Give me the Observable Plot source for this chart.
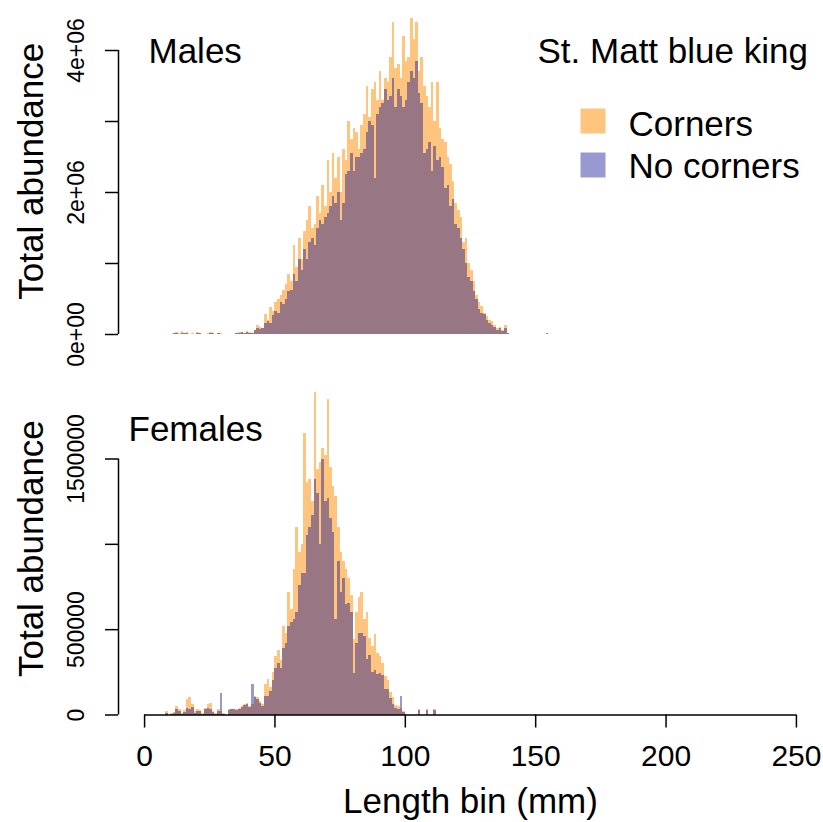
<!DOCTYPE html>
<html>
<head>
<meta charset="utf-8">
<script src="https://cdn.jsdelivr.net/npm/d3@7"></script>
<script src="https://cdn.jsdelivr.net/npm/@observablehq/plot@0.6"></script>
<style>
  html, body { margin: 0; padding: 0; background: #fff; }
  #chart { width: 823px; height: 822px; }
  #chart svg { display: block; }
</style>
</head>
<body>
<div id="chart"></div>
<script>
// Length-frequency of St. Matthew blue king crab, 1 mm length bins.
// Abundances below are in thousands of crab; bin i covers [start + i, start + i + 1) mm.
const maleBinStart = 11;
const maleCorners = [
  20, 30, 10, 40, 20, 30, 0, 20, 0, 30,
  20, 0, 0, 10, 30, 20, 0, 20, 10, 0,
  0, 0, 0, 0, 20, 30, 30, 20, 40, 30,
  20, 60, 120, 100, 80, 280, 200, 380, 330, 450,
  500, 550, 620, 700, 850, 750, 1250, 950, 1350, 1050,
  1450, 1600, 1800, 1500, 1550, 1950, 1700, 2100, 1800, 2450,
  2000, 2550, 2200, 2500, 2000, 2600, 2450, 3000, 2750, 2900,
  2850, 2600, 2950, 3100, 3500, 3050, 3450, 3550, 3300, 3700,
  3300, 3600, 3550, 3900, 4400, 3750, 3800, 3600, 4200, 3850,
  3900, 4450, 4150, 4400, 3700, 3900, 3500, 3350, 3200, 3550,
  3000, 3550, 2900, 2750, 2700, 2500, 2400, 2150, 1850, 1750,
  1650, 1300, 1350, 1000, 900, 750, 550, 450, 400, 300,
  250, 200, 180, 120, 80, 100, 60, 120, 20, 0,
  0, 0, 0, 0, 0, 0, 0, 0, 0, 0,
  0, 0, 0, 20
];
const maleNoCorners = [
  10, 20, 0, 20, 20, 10, 0, 0, 0, 20,
  10, 0, 0, 0, 20, 10, 0, 10, 0, 0,
  0, 0, 0, 0, 10, 20, 30, 20, 30, 20,
  20, 50, 80, 70, 80, 150, 180, 150, 270, 330,
  300, 450, 420, 500, 600, 620, 850, 750, 1050, 900,
  1200, 1050, 1300, 1350, 1250, 1500, 1600, 1550, 1650, 1700,
  1800, 1950, 1850, 2000, 1600, 1850, 2250, 2300, 2550, 2300,
  2500, 2500, 2550, 2600, 2850, 3000, 2950, 2200, 3100, 3200,
  3250, 3450, 3300, 3350, 3600, 3200, 3450, 3350, 3200, 3300,
  3550, 3700, 3600, 3850, 3400, 3250, 2550, 2600, 2700, 2300,
  2650, 2450, 2500, 2350, 2050, 2100, 1800, 1900, 1550, 1500,
  1350, 1200, 1000, 800, 750, 600, 500, 350, 300, 280,
  200, 150, 120, 100, 60, 80, 40, 90, 10, 0,
  0, 0, 0, 0, 0, 0, 0, 0, 0, 0,
  0, 0, 0, 10
];

const femaleBinStart = 8;
const femaleCorners = [
  20, 0, 10,
  15, 50, 30, 10, 25, 90, 100, 60, 20, 30,
  25, 10, 40, 60, 70, 20, 10, 30, 20, 10,
  0, 30, 30, 35, 30, 40, 50, 60, 70, 50,
  60, 110, 100, 80, 60, 180, 210, 160, 250, 345,
  380, 320, 520, 480, 715, 620, 850, 1100, 950, 1000,
  1650, 1360, 1380, 1250, 1890, 1440, 1480, 1560, 1520, 1850,
  1450, 1340, 1280, 1100, 950, 900, 850, 800, 700, 445,
  600, 690, 715, 560, 600, 450, 400, 470, 360, 345,
  300, 228, 200, 129, 100, 53, 50, 40, 20, 0,
  0, 0, 0, 0, 35, 0, 0, 35, 0, 0, 35
];
const femaleNoCorners = [
  10, 0, 5,
  10, 30, 20, 5, 15, 40, 35, 45, 10, 20,
  20, 5, 30, 40, 35, 15, 5, 20, 125, 5,
  0, 25, 30, 30, 25, 35, 45, 55, 60, 45,
  180, 100, 90, 70, 50, 110, 110, 140, 200, 270,
  300, 270, 390, 420, 520, 540, 560, 600, 760, 830,
  830, 1050, 1100, 1170, 1380, 1300, 1000, 1500, 1250, 1270,
  1150, 1070, 560, 900, 715, 800, 650, 656, 600, 246,
  420, 480, 480, 460, 328, 350, 250, 260, 240, 246,
  230, 152, 150, 94, 60, 40, 30, 110, 15, 0,
  0, 0, 0, 0, 25, 0, 0, 25, 0, 0, 25
];

// Axis ticks and their printed labels (overlapping labels are left blank)
const xTicks = [0, 50, 100, 150, 200, 250];
const maleYTicks = [0, 1e6, 2e6, 3e6, 4e6];
const maleYTickLabels = ["0e+00", "", "2e+06", "", "4e+06"];
const femaleYTicks = [0, 5e5, 1e6, 1.5e6];
const femaleYTickLabels = ["0", "500000", "", "1500000"];

const seriesNames = ["Corners", "No corners"];
const seriesFill = ["darkorange", "darkblue"];
const seriesOpacity = [0.5, 0.4];

const xDomain = [-10, 260];
const sansFont = '"Liberation Sans", Arial, Helvetica, sans-serif';

function binRows(start, corners, noCorners) {
  return corners.map((c, i) => ({
    lo: start + i,
    hi: start + i + 1,
    corners: c * 1e3,
    noCorners: noCorners[i] * 1e3
  }));
}

function labelFor(ticks, labels) {
  const m = new Map(ticks.map((t, i) => [t, labels[i]]));
  return (d) => m.get(d) ?? "";
}

function histMarks(rows) {
  return [
    Plot.rectY(rows, {x1: "lo", x2: "hi", y: "corners", fill: seriesFill[0], fillOpacity: seriesOpacity[0], inset: 0, shapeRendering: "crispEdges"}),
    Plot.rectY(rows, {x1: "lo", x2: "hi", y: "noCorners", fill: seriesFill[1], fillOpacity: seriesOpacity[1], inset: 0, shapeRendering: "crispEdges"})
  ];
}

function yAxisMarks(ticks, labels) {
  return [
    Plot.axisY({ticks, tickFormat: labelFor(ticks, labels), tickRotate: -90, tickSize: 13, tickPadding: 22,
                fontSize: 23, fontFamily: sansFont, label: null, strokeWidth: 1.5}),
    Plot.ruleX([xDomain[0]], {y1: ticks[0], y2: ticks[ticks.length - 1], strokeWidth: 1.5}),
    Plot.text(["Total abundance"], {frameAnchor: "left", rotate: -90, textAnchor: "middle", lineAnchor: "bottom",
                                    dx: -76, fontSize: 35, fontFamily: sansFont})
  ];
}

const style = {background: "white", fontFamily: sansFont, fontSize: "35px", color: "black", overflow: "visible"};

const males = Plot.plot({
  width: 823, height: 380,
  marginLeft: 118, marginRight: 1, marginTop: 7.4, marginBottom: 46,
  style,
  x: {domain: xDomain, axis: null},
  y: {domain: [0, 4.6e6], axis: null},
  marks: [
    ...histMarks(binRows(maleBinStart, maleCorners, maleNoCorners)),
    ...yAxisMarks(maleYTicks, maleYTickLabels),
    Plot.text(["Males"], {frameAnchor: "top-left", textAnchor: "start", lineAnchor: "bottom", dx: 30, dy: 54.6, fontSize: 35}),
    // legend
    Plot.text(["St. Matt blue king"], {frameAnchor: "top-left", textAnchor: "start", lineAnchor: "bottom", dx: 419, dy: 54.6, fontSize: 35}),
    ...seriesNames.map((name, i) => Plot.dot([name], {
      frameAnchor: "top-left", dx: 474.5, dy: 113.1 + 44 * i, symbol: "square", r: 14.1,
      fill: seriesFill[i], fillOpacity: seriesOpacity[i], stroke: null
    })),
    ...seriesNames.map((name, i) => Plot.text([name], {
      frameAnchor: "top-left", textAnchor: "start", lineAnchor: "bottom", dx: 510, dy: 127.6 + 42 * i, fontSize: 35
    }))
  ]
});

const females = Plot.plot({
  width: 823, height: 442,
  marginLeft: 118, marginRight: 1, marginTop: 1.7, marginBottom: 107.5,
  style,
  x: {domain: xDomain, axis: null},
  y: {domain: [0, 1.95e6], axis: null},
  marks: [
    ...histMarks(binRows(femaleBinStart, femaleCorners, femaleNoCorners)),
    Plot.ruleY([0], {x1: xTicks[0], x2: xTicks[xTicks.length - 1], strokeWidth: 1.5}),
    Plot.axisX({ticks: xTicks, tickFormat: d => String(d), tickSize: 13, tickPadding: 17, fontSize: 30,
                fontFamily: sansFont, label: null, strokeWidth: 1.5}),
    Plot.text(["Length bin (mm)"], {frameAnchor: "bottom", textAnchor: "middle", lineAnchor: "bottom", dy: 97.5, fontSize: 35}),
    ...yAxisMarks(femaleYTicks, femaleYTickLabels),
    Plot.text(["Females"], {frameAnchor: "top-left", textAnchor: "start", lineAnchor: "bottom", dx: 10, dy: 58.3, fontSize: 35})
  ]
});

document.getElementById("chart").append(males, females);
</script>
</body>
</html>
